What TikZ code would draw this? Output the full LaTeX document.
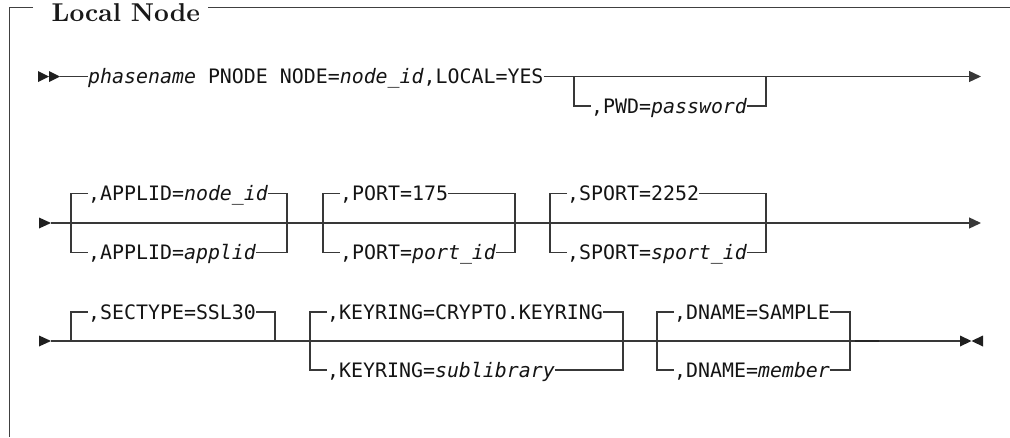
\documentclass[tikz,border=0pt]{standalone}
\usepackage{fontspec}
\newfontfamily\railfont{DejaVu Sans Mono}
\newfontfamily\titlefont{lmroman10-bold.otf}
\usetikzlibrary{arrows.meta}
\begin{document}
\begin{tikzpicture}[x=1pt,y=-1pt,
  rail/.style={line width=1.3pt,draw=black!78,line join=miter},
  frame/.style={line width=1.7pt,draw=black!75},
  tip/.style={fill=black!88},
  kw/.style={inner sep=0pt,anchor=base west,text=black!92,
             font=\fontsize{19.9}{24}\railfont},
  endtip/.style={-{Triangle[length=12pt,width=11pt]}},
]
\useasboundingbox (0,0) rectangle (1010,437);

% ---- frame with its title ----
\node[inner sep=0pt,anchor=base west,text=black!90,
      font=\fontsize{25.8}{31}\titlefont] (title) at (51.5,21) {Local Node};
\draw[frame] (33,7.5) -- (9.5,7.5) -- (9.5,437);
\draw[frame] (208,7.5) -- (1010,7.5);

% ---- row 1: phase name, node and optional password ----
\fill[tip] (38,71) -- (49,76.5) -- (38,82) -- cycle;
\fill[tip] (49,71) -- (60,76.5) -- (49,82) -- cycle;
\coordinate (r1a) at (60,76.5);
\coordinate (r1e) at (981,76.5);
\node[kw] (head) at (88,83.8)
  {{\itshape phasename} PNODE NODE={\itshape node\_id},LOCAL=YES};
\draw[rail] (r1a) -- (r1a -| head.west);
\draw[rail,endtip] (r1a -| head.east) -- (r1e);

\coordinate (pwdL)  at (574,76.5);
\coordinate (pwdR)  at (766,76.5);
\coordinate (pwdLL) at (574,106);
\coordinate (pwdRL) at (766,106);
\node[kw] (pwd) at (591,113.3) {,PWD={\itshape password}};
\draw[rail] (pwdL) -- (pwdLL) -- (pwdLL -| pwd.west);
\draw[rail] (pwdLL -| pwd.east) -- (pwdRL) -- (pwdR);

% ---- row 2: APPLID, PORT, SPORT ----
\fill[tip] (39,217.5) -- (51,223) -- (39,228.5) -- cycle;
\coordinate (r2a) at (51,223);
\coordinate (r2e) at (981,223);
\draw[rail,endtip] (r2a) -- (r2e);

\coordinate (apUL) at (71,193.5);  \coordinate (apLL) at (71,252.5);
\coordinate (apUR) at (287,193.5); \coordinate (apLR) at (287,252.5);
\node[kw] (ap1) at (88,200.8) {,APPLID={\itshape node\_id}};
\node[kw] (ap2) at (88,259.8) {,APPLID={\itshape applid}};
\draw[rail] (ap1.west |- apUL) -- (apUL) -- (apLL) -- (ap2.west |- apLL);
\draw[rail] (ap1.east |- apUR) -- (apUR) -- (apLR) -- (ap2.east |- apLR);

\coordinate (ptUL) at (323,193.5); \coordinate (ptLL) at (323,252.5);
\coordinate (ptUR) at (515,193.5); \coordinate (ptLR) at (515,252.5);
\node[kw] (pt1) at (340,200.8) {,PORT=175};
\node[kw] (pt2) at (340,259.8) {,PORT={\itshape port\_id}};
\draw[rail] (pt1.west |- ptUL) -- (ptUL) -- (ptLL) -- (pt2.west |- ptLL);
\draw[rail] (pt1.east |- ptUR) -- (ptUR) -- (ptLR) -- (pt2.east |- ptLR);

\coordinate (spUL) at (550,193.5); \coordinate (spLL) at (550,252.5);
\coordinate (spUR) at (766,193.5); \coordinate (spLR) at (766,252.5);
\node[kw] (sp1) at (567,200.8) {,SPORT=2252};
\node[kw] (sp2) at (567,259.8) {,SPORT={\itshape sport\_id}};
\draw[rail] (sp1.west |- spUL) -- (spUL) -- (spLL) -- (sp2.west |- spLL);
\draw[rail] (sp1.east |- spUR) -- (spUR) -- (spLR) -- (sp2.east |- spLR);

% ---- row 3: SECTYPE, KEYRING, DNAME ----
\fill[tip] (39,335.5) -- (51,341) -- (39,346.5) -- cycle;
\coordinate (r3a) at (51,341);
\coordinate (r3e) at (960,341);
\draw[rail] (r3a) -- (r3e);

\coordinate (stL)  at (71,341);  \coordinate (stUL) at (71,312);
\coordinate (stUR) at (275,312); \coordinate (stR)  at (275,341);
\node[kw] (st) at (88,319.3) {,SECTYPE=SSL30};
\draw[rail] (stL) -- (stUL) -- (stUL -| st.west);
\draw[rail] (st.east |- stUR) -- (stUR) -- (stR);

\coordinate (kyUL) at (310,312); \coordinate (kyLL) at (310,370);
\coordinate (kyUR) at (623,312); \coordinate (kyLR) at (623,370);
\node[kw] (ky1) at (327,319.3) {,KEYRING=CRYPTO.KEYRING};
\node[kw] (ky2) at (327,377.3) {,KEYRING={\itshape sublibrary}};
\draw[rail] (ky1.west |- kyUL) -- (kyUL) -- (kyLL) -- (ky2.west |- kyLL);
\draw[rail] (ky1.east |- kyUR) -- (kyUR) -- (kyLR) -- (ky2.east |- kyLR);

\coordinate (dnUL) at (657,312); \coordinate (dnLL) at (657,370);
\coordinate (dnUR) at (850,312); \coordinate (dnLR) at (850,370);
\node[kw] (dn1) at (674,319.3) {,DNAME=SAMPLE};
\node[kw] (dn2) at (674,377.3) {,DNAME={\itshape member}};
\draw[rail] (dn1.west |- dnUL) -- (dnUL) -- (dnLL) -- (dn2.west |- dnLL);
\draw[rail] (dn1.east |- dnUR) -- (dnUR) -- (dnLR) -- (dn2.east |- dnLR);

% heavier dash after the last group, then the end marks
\coordinate (dsA) at (855,341);
\coordinate (dsB) at (879,341);
\draw[line width=2.6pt,draw=black!85] (dsA) -- (dsB);
\fill[tip] (960,335.5) -- (971.5,341) -- (960,346.5) -- cycle;
\fill[tip] (983,335.5) -- (971.5,341) -- (983,346.5) -- cycle;
\end{tikzpicture}
\end{document}
